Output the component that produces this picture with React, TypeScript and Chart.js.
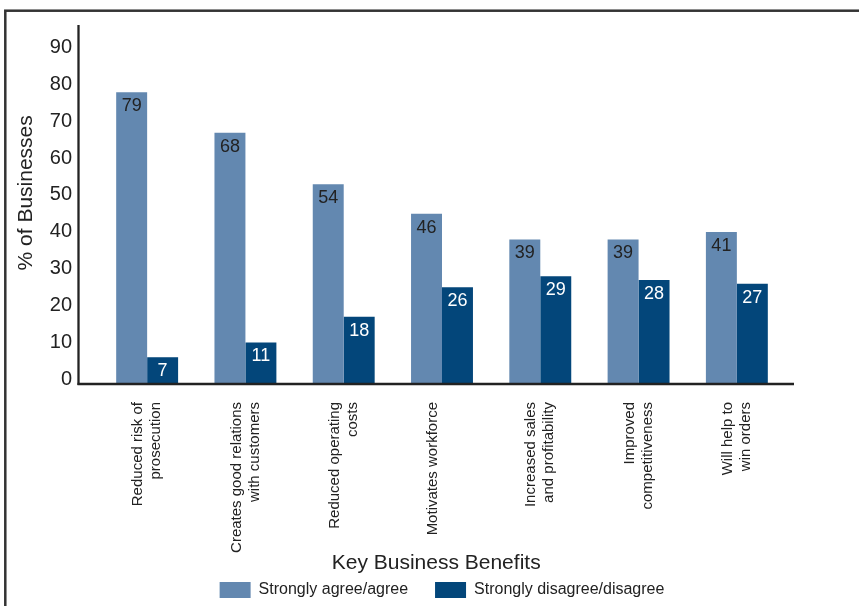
import React, { useEffect, useRef } from "react";
import { Chart, registerables } from "chart.js";

Chart.register(...registerables);

const categories: string[][] = [
  ["Reduced risk of", "prosecution"],
  ["Creates good relations", "with customers"],
  ["Reduced operating", "costs"],
  ["Motivates workforce"],
  ["Increased sales", "and profitability"],
  ["Improved", "competitiveness"],
  ["Will help to", "win orders"],
];
const agreeValues = [79, 68, 54, 46, 39, 39, 41];
const disagreeValues = [7, 11, 18, 26, 29, 28, 27];
const yTickValues = [0, 10, 20, 30, 40, 50, 60, 70, 80, 90];
const seriesNames = ["Strongly agree/agree", "Strongly disagree/disagree"];
const xTitle = "Key Business Benefits";
const yTitle = "% of Businesses";

const FONT = '"Liberation Sans", Arial, Helvetica, sans-serif';
const LIGHT = "#6388B0";
const DARK = "#03467A";
const TEXT = "#222222";

const framePlugin = {
  id: "frame",
  beforeDraw(chart: any) {
    const ctx = chart.ctx;
    ctx.save();
    ctx.fillStyle = "#ffffff";
    ctx.fillRect(0, 0, chart.width, chart.height);
    ctx.strokeStyle = "#333333";
    ctx.lineWidth = 2.5;
    ctx.strokeRect(5.3, 10.7, 2000, 2000);
    ctx.restore();
  },
};

const axisPlugin = {
  id: "axisLines",
  afterDatasetsDraw(chart: any) {
    const { ctx, chartArea } = chart;
    ctx.save();
    ctx.strokeStyle = "#222222";
    ctx.lineWidth = 2.3;
    const ax = chartArea.left - 19.5;
    ctx.beginPath();
    ctx.moveTo(ax, chartArea.top - 1);
    ctx.lineTo(ax, chartArea.bottom + 2);
    ctx.stroke();
    ctx.lineWidth = 2.6;
    ctx.beginPath();
    ctx.moveTo(ax - 1, chartArea.bottom + 1);
    ctx.lineTo(chartArea.right + 8, chartArea.bottom + 1);
    ctx.stroke();
    ctx.restore();
  },
};

const valueLabelPlugin = {
  id: "valueLabels",
  afterDatasetsDraw(chart: any) {
    const ctx = chart.ctx;
    ctx.save();
    ctx.font = `18px ${FONT}`;
    ctx.textAlign = "center";
    ctx.textBaseline = "middle";
    chart.data.datasets.forEach((ds: any, di: number) => {
      const meta = chart.getDatasetMeta(di);
      meta.data.forEach((el: any, i: number) => {
        ctx.fillStyle = di === 0 ? TEXT : "#ffffff";
        ctx.fillText(String(ds.data[i]), el.x, el.y + 14);
      });
    });
    ctx.restore();
  },
};

export default function App() {
  const ref = useRef<HTMLCanvasElement | null>(null);

  useEffect(() => {
    if (!ref.current) return;
    const chart = new Chart(ref.current, {
      type: "bar",
      data: {
        labels: categories,
        datasets: [
          {
            label: seriesNames[0],
            data: agreeValues,
            backgroundColor: LIGHT,
            categoryPercentage: 0.63,
            barPercentage: 1,
          },
          {
            label: seriesNames[1],
            data: disagreeValues,
            backgroundColor: DARK,
            categoryPercentage: 0.63,
            barPercentage: 1,
          },
        ],
      },
      options: {
        responsive: false,
        animation: false,
        devicePixelRatio: 1,
        layout: { padding: { left: 0, right: 73, top: 26, bottom: -2 } },
        plugins: {
          legend: {
            position: "bottom",
            fullSize: false,
            labels: {
              boxWidth: 31,
              boxHeight: 16,
              padding: 27,
              color: TEXT,
              font: { size: 16, family: FONT },
            },
          },
          tooltip: { enabled: false },
        },
        scales: {
          x: {
            grid: { display: false, drawTicks: false },
            border: { display: false },
            ticks: {
              minRotation: 90,
              maxRotation: 90,
              autoSkip: false,
              padding: 19,
              labelOffset: -9,
              color: TEXT,
              font: { size: 15, family: FONT },
            },
            title: {
              display: true,
              text: xTitle + "  ",
              color: TEXT,
              font: { size: 21, family: FONT },
              padding: { top: 0, bottom: -20.6 },
            },
            afterFit: (s: any) => {
              s.height = 172;
            },
          },
          y: {
            min: 0,
            max: 97,
            grid: { display: false, drawTicks: true, tickLength: 26 },
            border: { display: false },
            afterBuildTicks: (s: any) => {
              s.ticks = yTickValues.map((v) => ({ value: v }));
            },
            ticks: {
              padding: 0,
              labelOffset: -4,
              color: TEXT,
              font: { size: 20, family: FONT },
            },
            title: {
              display: true,
              text: "    " + yTitle,
              color: TEXT,
              font: { size: 21, family: FONT },
              padding: { top: 13.4, bottom: 0 },
            },
            afterFit: (s: any) => {
              s.width = 98;
            },
          },
        },
      },
      plugins: [framePlugin, axisPlugin, valueLabelPlugin],
    } as any);
    return () => chart.destroy();
  }, []);

  return (
    <div style={{ position: "fixed", left: 0, top: 0, width: 859, height: 606, background: "#fff" }}>
      <canvas ref={ref} width={859} height={606} style={{ display: "block" }} />
    </div>
  );
}
